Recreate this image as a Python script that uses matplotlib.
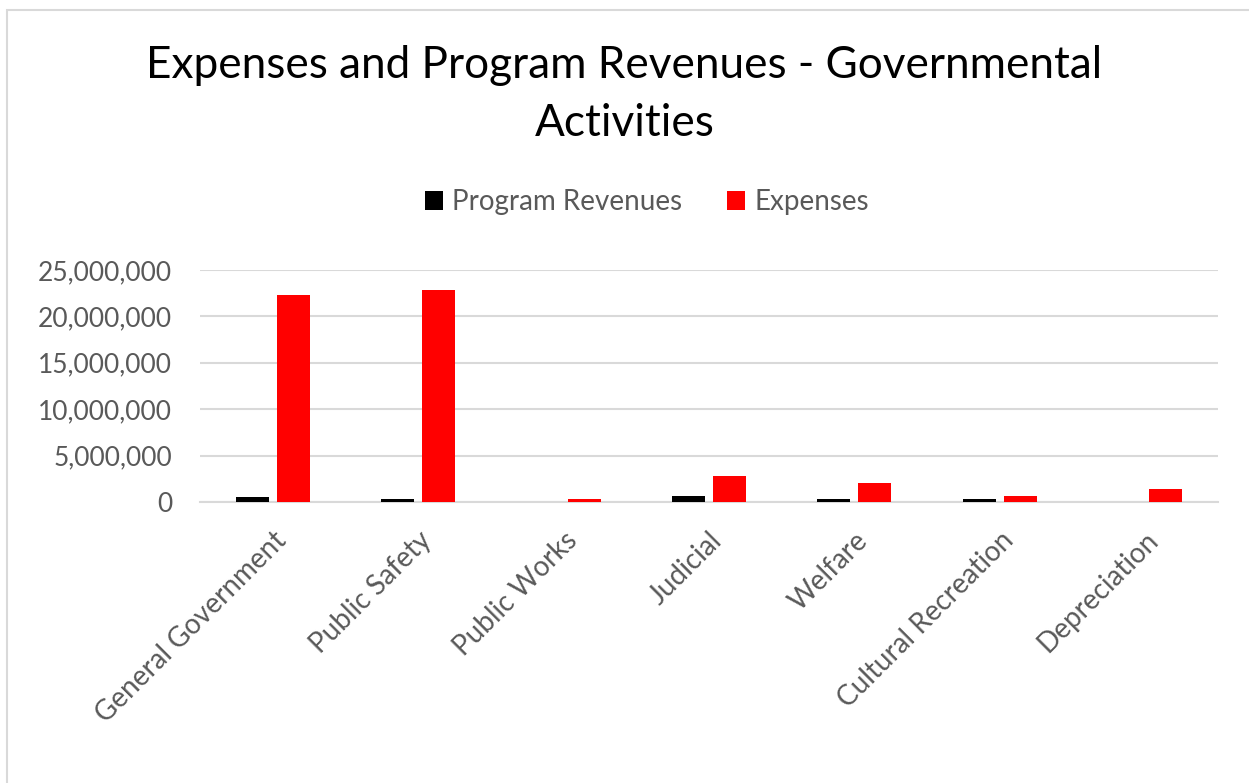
import matplotlib.pyplot as plt
import numpy as np
from matplotlib.patches import Rectangle
from matplotlib.ticker import FuncFormatter

plt.rcParams['font.family'] = ['Lato', 'DejaVu Sans']

categories = ['General Government', 'Public Safety', 'Public Works', 'Judicial',
              'Welfare', 'Cultural Recreation', 'Depreciation']
program_revenues = [570000, 290000, 0, 600000, 300000, 300000, 0]
expenses = [22340000, 22840000, 290000, 2830000, 2000000, 600000, 1430000]
y_ticks = [0, 5000000, 10000000, 15000000, 20000000, 25000000]

W, H = 1249, 783
fig = plt.figure(figsize=(W / 100, H / 100), dpi=100)
ax = fig.add_axes([200 / W, 1 - 502 / H, (1218 - 200) / W, (502 - 270) / H])

# chart border (right and bottom edges fall outside the canvas)
fig.patches.append(Rectangle((7 / W, -0.1), 1.2, 1.1 - 10 / H,
                             transform=fig.transFigure, fill=False,
                             edgecolor='#d9d9d9', linewidth=1.5))

x = np.arange(len(categories))
w = 0.227
gap = 0.055
ax.bar(x - (w + gap) / 2, program_revenues, w, color='black', label='Program Revenues', zorder=3)
ax.bar(x + (w + gap) / 2, expenses, w, color='#ff0000', label='Expenses', zorder=3)

ax.set_xlim(-0.5, len(categories) - 0.5)
ax.set_ylim(0, 25000000)
ax.set_yticks(y_ticks)
ax.yaxis.set_major_formatter(FuncFormatter(lambda v, p: f'{int(v):,}'))
ax.grid(axis='y', color='#d9d9d9', linewidth=1.5, zorder=0)
for s in ['top', 'right', 'left']:
    ax.spines[s].set_visible(False)
ax.spines['bottom'].set_color('#d9d9d9')
ax.spines['bottom'].set_linewidth(1.5)
ax.tick_params(axis='both', length=0, colors='#595959')
ax.tick_params(axis='y', pad=20, labelsize=19)
ax.set_xticks(x)
ax.set_xticklabels(categories, rotation=45, ha='right', rotation_mode='anchor')
ax.tick_params(axis='x', pad=18, labelsize=20)

fig.text(0.5, 1 - 65 / H, 'Expenses and Program Revenues - Governmental',
         ha='center', va='center', fontsize=31.8, color='black')
fig.text(0.5, 1 - 124 / H, 'Activities',
         ha='center', va='center', fontsize=31.8, color='black')

fig.legend(loc='center', bbox_to_anchor=(647 / W, 1 - 202 / H), ncol=2,
           frameon=False, fontsize=20, labelcolor='#595959', handlelength=0.65,
           handleheight=0.65, handletextpad=0.35, columnspacing=1.6)

fig.savefig('out.png', dpi=100)
